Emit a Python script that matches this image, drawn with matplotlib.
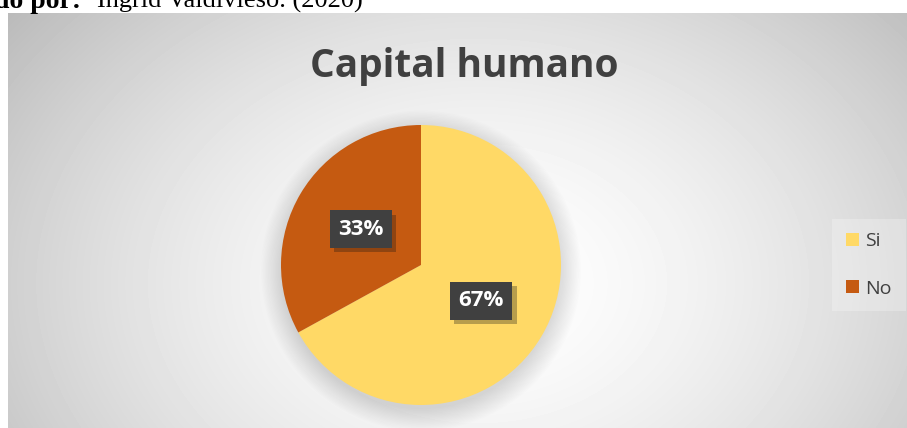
import matplotlib.pyplot as plt
import matplotlib.patheffects as pe
from matplotlib.patches import Circle
import numpy as np

# datos del grafico
categorias = ['Si', 'No']
valores = [67, 33]
colores = ['#FFD966', '#C55A11']
titulo = 'Capital humano'

W, H = 907, 428
fig = plt.figure(figsize=(W / 100, H / 100), dpi=100)
fig.patch.set_facecolor('white')

# fondo con degradado radial
bg = fig.add_axes([8 / W, 0, (W - 8) / W, (H - 13) / H])
yy, xx = np.mgrid[0:415, 0:899]
cx, cy = 470, 270
d = np.sqrt(((xx - cx) / 1.35) ** 2 + (yy - cy) ** 2) / 420
grad = 1 - 0.25 * np.clip(d, 0, 1.1) ** 1.6
bg.imshow(grad, cmap='gray', vmin=0, vmax=1, aspect='auto',
          extent=(0, 899, 415, 0))
bg.set_axis_off()

# texto de fuente arriba (cortado como en el documento)
fig.text(-6, H - 8, 'do por:', fontsize=20, fontweight='bold',
         family='Liberation Serif', transform=None, va='baseline')
fig.text(97, H - 8, 'Ingrid Valdivieso. (2020)', fontsize=19,
         family='Liberation Serif', transform=None, va='baseline')

fig.text(464 / W, 1 - 77 / H, titulo, fontsize=28, fontweight='bold',
         color='#404040', family='Open Sans', ha='center', va='baseline')

# pastel
r = 140
ax = fig.add_axes([(421 - r) / W, (H - 265 - r) / H, 2 * r / W, 2 * r / H])
# sombra suave del pastel
for k in range(18):
    ax.add_patch(Circle((0.0, -0.04), 0.99 + 0.009 * k, color='black',
                        alpha=0.008, lw=0, clip_on=False, zorder=0))
wedges, texts, autotexts = ax.pie(
    valores, colors=colores, startangle=90, counterclock=False,
    autopct='%1.0f%%', pctdistance=0.5,
    wedgeprops=dict(zorder=2),
    textprops=dict(color='white', fontsize=16, fontweight='bold',
                   family='Open Sans'))
for t in autotexts:
    t.set_zorder(5)
    t.set_bbox(dict(boxstyle='square,pad=0.38', facecolor='#404040',
                    edgecolor='none',
                    path_effects=[pe.SimplePatchShadow(offset=(3, -3), alpha=0.3),
                                  pe.Normal()]))
ax.set_xlim(-1, 1)
ax.set_ylim(-1, 1)

# leyenda
leg = fig.legend(wedges, categorias, loc='center',
                 bbox_to_anchor=(869 / W, 1 - 265 / H), frameon=True,
                 fancybox=False, handlelength=0.65, handleheight=0.65,
                 labelspacing=1.5, handletextpad=0.35, borderpad=0.7,
                 prop=dict(family='Open Sans', size=14))
leg.get_frame().set_facecolor('white')
leg.get_frame().set_alpha(0.25)
leg.get_frame().set_linewidth(0)
for t in leg.get_texts():
    t.set_color('#404040')

plt.savefig('out.png', dpi=100)
plt.close()
